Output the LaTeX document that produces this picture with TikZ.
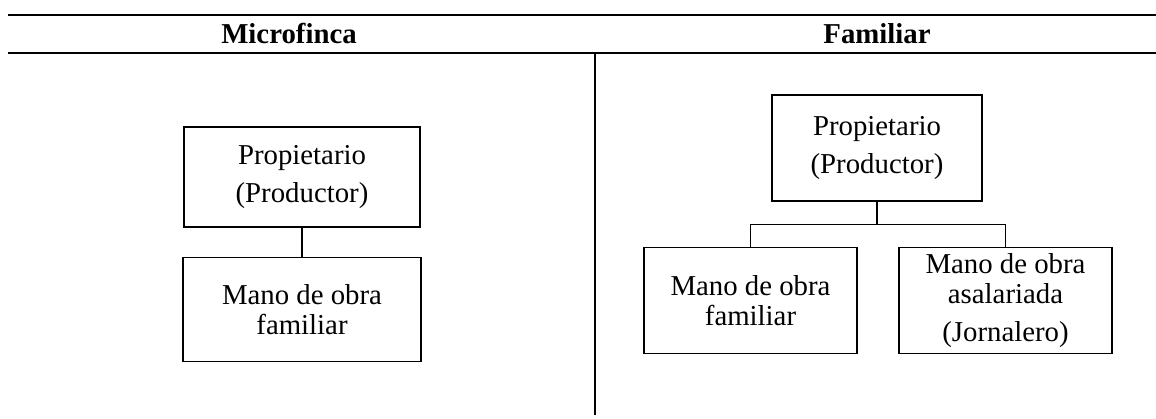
\documentclass[tikz,border=0pt]{standalone}
\usepackage{fontspec}
\setmainfont{Liberation Serif}
\usepackage{tikz}
\usetikzlibrary{positioning}

\begin{document}
\begin{tikzpicture}[
            x=0.5pt, y=-0.5pt,
            line width=0.6pt,
            box/.style={rectangle, draw, inner sep=0pt, align=center, minimum width=106.5pt, minimum height=53pt,
                    font=\fontsize{14.4}{15}\selectfont},
            head/.style={anchor=base, font=\fontsize{14.4}{15}\selectfont\bfseries}
        ]
        \useasboundingbox (0,0) rectangle (1156,418);

        % Table frame
        \draw (8,15) -- (1156,15);
        \draw (8,53) -- (1156,53);
        \draw (595,53) -- (595,415);
        \node[head] (h_micro) at (289,43) {Microfinca};
        \node[head] (h_fam) at (877,43) {Familiar};

        % Microfinca
        \node[box, minimum width=118pt, minimum height=50pt] (m_prop) at (302,177) {Propietario \\[4pt] (Productor)};
        \node[box, minimum width=119pt, minimum height=52pt, below=14.5pt of m_prop] (m_mano) {Mano de obra \\ familiar};
        \draw (m_prop) -- (m_mano);

        % Familiar
        \node[box, minimum width=105pt] (f_prop) at (877,148) {Propietario \\[4pt] (Productor)};
        \node[box, below=22.5pt of f_prop, xshift=-63.25pt] (f_fam) {Mano de obra \\ familiar};
        \node[box, below=22.5pt of f_prop, xshift=64.25pt] (f_asal) {Mano de obra \\ asalariada \\[4pt] (Jornalero)};
        \coordinate[below=11.5pt of f_prop] (f_fork);
        \draw (f_prop) -- (f_fork);
        \draw (f_fork) -| (f_fam);
        \draw (f_fork) -| (f_asal);
    \end{tikzpicture}
\end{document}
